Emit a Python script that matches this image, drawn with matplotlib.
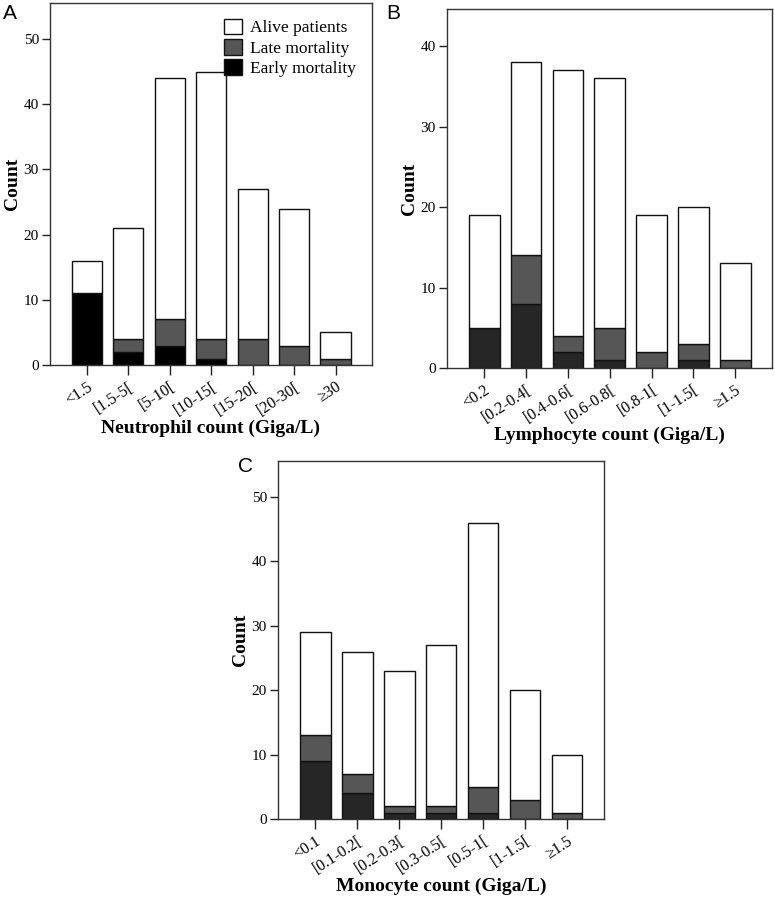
"""Stacked bar charts of patient outcome by leukocyte count class."""

import matplotlib
matplotlib.use("Agg")
import matplotlib.pyplot as plt
from matplotlib.patches import Patch

plt.rcParams["font.family"] = ["Liberation Serif", "DejaVu Serif"]

# --- Panel A: neutrophils ----------------------------------------------------
neut_labels = ["<1.5", "[1.5-5[", "[5-10[", "[10-15[", "[15-20[", "[20-30[", "≥30"]
neut_early = [11, 2, 3, 1, 0, 0, 0]
neut_late = [0, 2, 4, 3, 4, 3, 1]
neut_total = [16, 21, 44, 45, 27, 24, 5]

# --- Panel B: lymphocytes ----------------------------------------------------
lymph_labels = ["<0.2", "[0.2-0.4[", "[0.4-0.6[", "[0.6-0.8[", "[0.8-1[", "[1-1.5[", "≥1.5"]
lymph_early = [5, 8, 2, 1, 0, 1, 0]
lymph_late = [0, 6, 2, 4, 2, 2, 1]
lymph_total = [19, 38, 37, 36, 19, 20, 13]

# --- Panel C: monocytes ------------------------------------------------------
mono_labels = ["<0.1", "[0.1-0.2[", "[0.2-0.3[", "[0.3-0.5[", "[0.5-1[", "[1-1.5[", "≥1.5"]
mono_early = [9, 4, 1, 1, 1, 0, 0]
mono_late = [4, 3, 1, 1, 4, 3, 1]
mono_total = [29, 26, 23, 27, 46, 20, 10]

LATE_COLOR = "#565656"


def draw_panel(ax, labels, early, late, total, xlabel, ymax, yticks, early_color):
    x = range(len(labels))
    alive = [t - e - l for t, e, l in zip(total, early, late)]
    dead = [e + l for e, l in zip(early, late)]
    kw = dict(width=0.73, edgecolor="#111", linewidth=1.0)
    ax.bar(x, early, color=early_color, **kw)
    ax.bar(x, late, bottom=early, color=LATE_COLOR, **kw)
    ax.bar(x, alive, bottom=dead, color="white", **kw)
    ax.set_xlim(-0.89, len(labels) - 1 + 0.88)
    ax.set_ylim(0, ymax)
    ax.set_yticks(yticks)
    ax.set_xticks(list(x))
    ax.set_xticklabels(labels, rotation=33, ha="right", rotation_mode="anchor",
                       fontsize=11.5)
    ax.tick_params(axis="both", direction="out", width=1.0, color="#222", pad=2)
    ax.tick_params(axis="y", length=6, labelsize=11)
    ax.tick_params(axis="x", length=7, pad=3)
    for s in ax.spines.values():
        s.set_linewidth(1.0)
        s.set_color("#333")
    ax.set_xlabel(xlabel, fontsize=14, fontweight="bold", labelpad=1)
    ax.set_ylabel("Count", fontsize=14, fontweight="bold", labelpad=2)


fig = plt.figure(figsize=(7.75, 8.97), dpi=100)

ax_a = fig.add_axes([0.0645, 0.593, 0.4155, 0.4036])
draw_panel(ax_a, neut_labels, neut_early, neut_late, neut_total,
           "Neutrophil count (Giga/L)", 55.5, [0, 10, 20, 30, 40, 50], "#000000")
handles = [Patch(facecolor="white", edgecolor="#111"),
           Patch(facecolor=LATE_COLOR, edgecolor="#111"),
           Patch(facecolor="#000000", edgecolor="#111")]
ax_a.legend(handles, ["Alive patients", "Late mortality", "Early mortality"],
            loc="upper right", frameon=False, fontsize=12.5, handlelength=1.0,
            handleheight=1.0, handletextpad=0.5, labelspacing=0.15,
            borderaxespad=0.5)

ax_b = fig.add_axes([0.5768, 0.5897, 0.4194, 0.4002])
draw_panel(ax_b, lymph_labels, lymph_early, lymph_late, lymph_total,
           "Lymphocyte count (Giga/L)", 44.6, [0, 10, 20, 30, 40], "#262626")

ax_c = fig.add_axes([0.3587, 0.087, 0.4206, 0.399])
draw_panel(ax_c, mono_labels, mono_early, mono_late, mono_total,
           "Monocyte count (Giga/L)", 55.6, [0, 10, 20, 30, 40, 50], "#262626")

for letter, (fx, fy) in zip("ABC", [(0.004, 0.985), (0.499, 0.985), (0.307, 0.48)]):
    fig.text(fx, fy, letter, fontsize=15, family="Liberation Sans", va="center")

fig.savefig("out.png", dpi=100)
